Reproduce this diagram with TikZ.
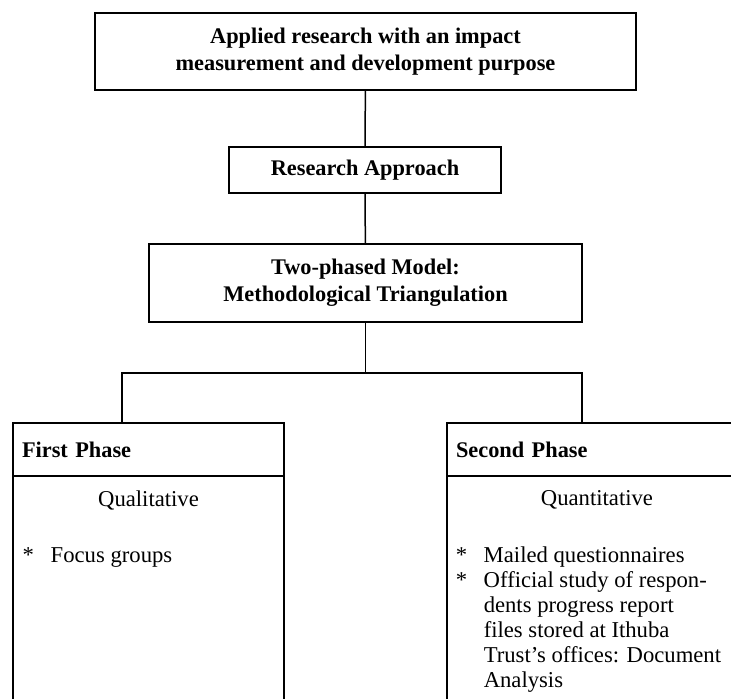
\documentclass[tikz,border=0pt]{standalone}
\usepackage{fontspec}
\setmainfont{Liberation Serif}
\usepackage{tikz}

\begin{document}
\begin{tikzpicture}[x=0.6pt,y=-0.6pt, line width=0.9pt,
		every node/.style={font=\fontsize{13.6}{15}\selectfont},
		box/.style={draw, align=center, font=\fontsize{13.4}{16}\selectfont\bfseries},
		phase/.style={draw, minimum height=31.8pt, inner xsep=5.4pt, align=left, font=\fontsize{13.4}{15}\selectfont\bfseries},
		body/.style={draw, minimum height=158.4pt}]
			\path[use as bounding box, clip] (0,0) rectangle (731,699);
			\node[box, minimum width=324.6pt, minimum height=46.2pt] (impact) at (365.5,51.5) {Applied research with an impact\\measurement and development purpose};
			\node[box, minimum width=163.2pt, minimum height=27.6pt] (approach) at (365,170) {Research Approach};
			\node[box, minimum width=259.8pt, minimum height=46.8pt] (model) at (365.5,283) {Two-phased Model:\\Methodological Triangulation};
			\node[body, minimum width=162.6pt] (firstbody) at (148.5,608) {};
			\node[phase, text width=151.8pt] (first) at (148.5,449.5) {First Phase};
			\node[body, minimum width=180pt] (secondbody) at (597,608) {};
			\node[phase, text width=169.2pt] (second) at (597,449.5) {Second Phase};
			\node (qual) at (148.5,500) {Qualitative};
			\node (quant) at (597,500) {Quantitative};
			\node[anchor=north west, inner sep=0pt] (focus) at (22,544) {\begin{tabular}{@{}p{16.8pt}@{}l@{}}
				{*} & Focus groups
			\end{tabular}};
			\node[anchor=north west, inner sep=0pt] (methods) at (455,544) {\begin{tabular}{@{}p{16.8pt}@{}l@{}}
				{*} & Mailed questionnaires\\
				{*} & Official study of respon-\\
				    & dents progress report\\
				    & files stored at Ithuba\\
				    & Trust's offices: Document\\
				    & Analysis
			\end{tabular}};
			\coordinate (barl) at (122,373);
			\coordinate (barr) at (582,373);
			\draw (impact) -- (approach);
			\draw (approach) -- (model);
			\draw (model) -- (model |- barl);
			\draw (barl |- first.north) -- (barl) -- (barr) -- (barr |- second.north);
		\end{tikzpicture}
\end{document}
